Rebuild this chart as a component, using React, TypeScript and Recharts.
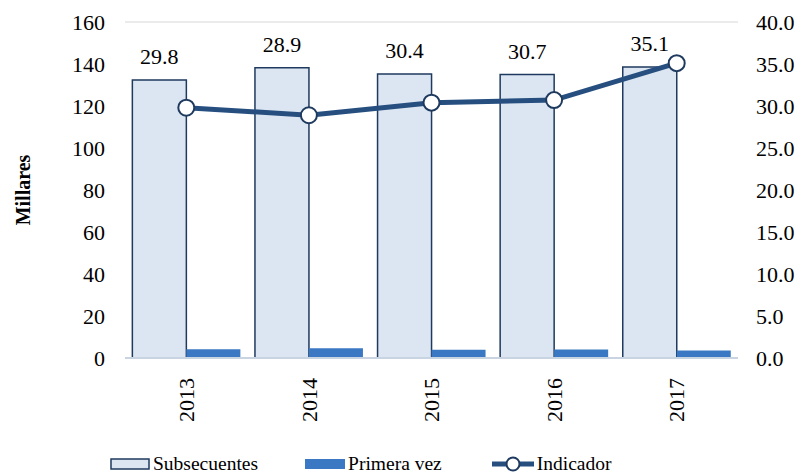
import {
  ComposedChart,
  Bar,
  Line,
  XAxis,
  YAxis,
  CartesianGrid,
  Legend,
  LabelList,
} from 'recharts'

const YEARS = ['2013', '2014', '2015', '2016', '2017']
const SUBSECUENTES = [132.4, 138.2, 135.2, 135.0, 138.6]
const PRIMERA_VEZ = [4.2, 4.6, 3.9, 4.1, 3.6]
const INDICADOR = [29.8, 28.9, 30.4, 30.7, 35.1]

const LEFT_TICKS = [0, 20, 40, 60, 80, 100, 120, 140, 160]
const RIGHT_TICKS = [0, 5, 10, 15, 20, 25, 30, 35, 40]

const FONT = '"Liberation Serif", "Times New Roman", serif'
const LIGHT = '#dce6f2'
const NAVY = '#1f3a5f'
const BLUE = '#3a78c4'
const LINE = '#264f80'

const data = YEARS.map((y, i) => ({
  year: y,
  sub: SUBSECUENTES[i],
  prim: PRIMERA_VEZ[i],
  ind: INDICADOR[i],
}))

// rotated year labels under the axis
function YearTick({ x, y, payload }: any) {
  return (
    <text
      x={x}
      y={y + 12}
      transform={`rotate(-90 ${x} ${y + 12})`}
      textAnchor="end"
      dy="0.35em"
      fontFamily={FONT}
      fontSize={22}
      fill="#000"
    >
      {payload.value}
    </text>
  )
}

function LegendContent() {
  const item = { display: 'flex', alignItems: 'center', gap: 3 } as const
  return (
    <div
      style={{
        display: 'flex',
        paddingLeft: 110,
        height: 45,
        alignItems: 'flex-end',
        fontFamily: FONT,
        fontSize: 19.5,
        color: '#000',
        lineHeight: '22px',
      }}
    >
      <div style={{ ...item, marginRight: 47 }}>
        <svg width={40} height={12}>
          <rect x={1} y={1} width={38} height={10} fill={LIGHT} stroke={NAVY} strokeWidth={1.5} />
        </svg>
        <span>Subsecuentes</span>
      </div>
      <div style={{ ...item, marginRight: 50 }}>
        <svg width={40} height={12}>
          <rect x={0} y={1} width={40} height={10} fill={BLUE} />
        </svg>
        <span>Primera vez</span>
      </div>
      <div style={item}>
        <svg width={42} height={18}>
          <line x1={0} y1={9} x2={42} y2={9} stroke={LINE} strokeWidth={5} />
          <circle cx={21} cy={9} r={6.5} fill="#fff" stroke={NAVY} strokeWidth={2} />
        </svg>
        <span>Indicador</span>
      </div>
    </div>
  )
}

export default function App() {
  const tickStyle = { fontFamily: FONT, fontSize: 22, fill: '#000' }
  return (
    <div style={{ position: 'absolute', left: 0, top: 0, background: '#fff' }}>
      <ComposedChart
        width={803}
        height={475}
        data={data}
        margin={{ top: 22, right: 0, bottom: 0, left: 0 }}
        barCategoryGap="6%"
        barGap={0}
      >
        <CartesianGrid vertical={false} stroke="#e4e4e4" strokeWidth={1.5} />
        <XAxis
          dataKey="year"
          height={72}
          tickLine={false}
          axisLine={{ stroke: '#c9d4e3', strokeWidth: 2 }}
          tick={<YearTick />}
          interval={0}
        />
        <YAxis
          yAxisId="left"
          width={125}
          domain={[0, 160]}
          ticks={LEFT_TICKS}
          axisLine={false}
          tickLine={false}
          tickMargin={14}
          tick={tickStyle}
          label={{
            value: 'Millares',
            angle: -90,
            position: 'center',
            dx: -40,
            style: { fontFamily: FONT, fontSize: 20, fontWeight: 'bold', fill: '#000' },
          }}
        />
        <YAxis
          yAxisId="right"
          orientation="right"
          width={65}
          domain={[0, 40]}
          ticks={RIGHT_TICKS}
          axisLine={false}
          tickLine={false}
          tickMargin={12}
          tick={tickStyle}
          tickFormatter={(v: number) => v.toFixed(1)}
        />
        <Legend verticalAlign="bottom" height={45} content={<LegendContent />} />
        <Bar
          yAxisId="left"
          dataKey="sub"
          name="Subsecuentes"
          fill={LIGHT}
          stroke={NAVY}
          strokeWidth={1.5}
          isAnimationActive={false}
        >
          <LabelList
            dataKey="ind"
            position="top"
            offset={16}
            formatter={(v: any) => Number(v).toFixed(1)}
            style={{ fontFamily: FONT, fontSize: 22, fill: '#000' }}
          />
        </Bar>
        <Bar
          yAxisId="left"
          dataKey="prim"
          name="Primera vez"
          fill={BLUE}
          isAnimationActive={false}
        />
        <Line
          yAxisId="right"
          dataKey="ind"
          name="Indicador"
          stroke={LINE}
          strokeWidth={5}
          dot={{ r: 8, fill: '#fff', stroke: NAVY, strokeWidth: 2 }}
          isAnimationActive={false}
        />
      </ComposedChart>
    </div>
  )
}
